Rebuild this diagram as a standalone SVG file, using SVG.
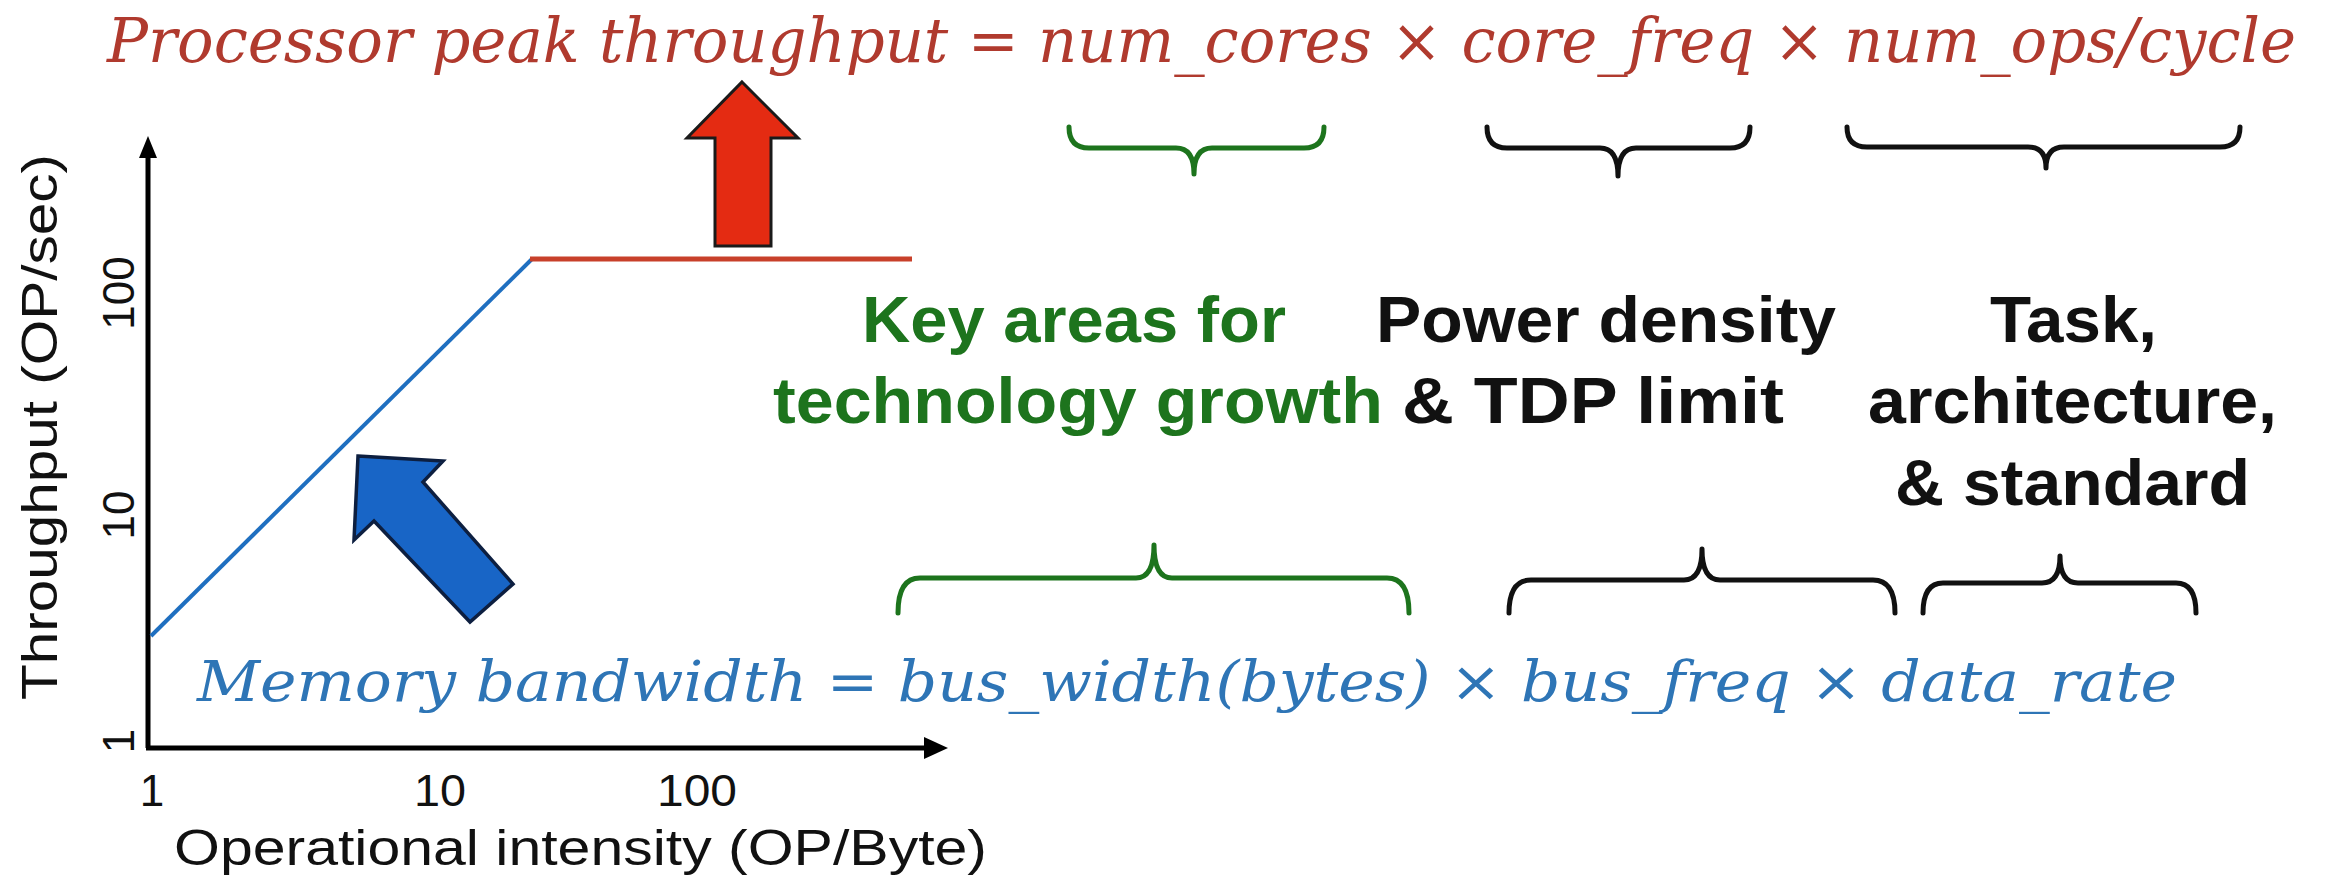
<svg xmlns="http://www.w3.org/2000/svg" width="2328" height="886" viewBox="0 0 2328 886">
<style>
.sans{font-family:"Liberation Sans",Arial,sans-serif;}
.bold{font-weight:bold;font-size:65px;}
.math{font-family:"DejaVu Serif","Liberation Serif",serif;font-style:italic;}
.green{fill:#1D741D;}
.black{fill:#111111;}
.brace{fill:none;stroke-width:5;stroke-linecap:round;stroke-linejoin:round;}
.axis{stroke:#000;stroke-width:5;fill:none;}
.tick{font-size:44px;fill:#111;}
</style>
<rect width="2328" height="886" fill="#ffffff"/>

<g id="title">
<text class="math" x="107" y="62" font-size="61" fill="#B03A2E" textLength="2189" lengthAdjust="spacingAndGlyphs">Processor peak throughput = num_cores × core_freq × num_ops/cycle</text>
</g>

<g id="chart">
<path class="axis" d="M148,748 V150"/>
<polygon points="148,136 139,158 157,158" fill="#000"/>
<path class="axis" d="M146,748 H928"/>
<polygon points="948,748 924,737 924,759" fill="#000"/>
<line x1="151" y1="636" x2="532" y2="259" stroke="#1F6FC0" stroke-width="4"/>
<line x1="530" y1="259" x2="912" y2="259" stroke="#C8402A" stroke-width="5"/>
<text class="sans tick" x="152" y="806" text-anchor="middle">1</text>
<text class="sans tick" x="440" y="806" text-anchor="middle" textLength="52" lengthAdjust="spacingAndGlyphs">10</text>
<text class="sans tick" x="697" y="806" text-anchor="middle" textLength="80" lengthAdjust="spacingAndGlyphs">100</text>
<text class="sans" x="174" y="865" font-size="50" fill="#111" textLength="813" lengthAdjust="spacingAndGlyphs">Operational intensity (OP/Byte)</text>
<text class="sans tick" transform="translate(134,741) rotate(-90)" text-anchor="middle">1</text>
<text class="sans tick" transform="translate(134,515) rotate(-90)" text-anchor="middle">10</text>
<text class="sans tick" transform="translate(134,293) rotate(-90)" text-anchor="middle">100</text>
<text class="sans" transform="translate(57,700) rotate(-90)" font-size="50" fill="#111" textLength="546" lengthAdjust="spacingAndGlyphs">Throughput (OP/sec)</text>
</g>

<g id="red-arrow">
<polygon points="742,82 798,138 771,138 771,246 715,246 715,138 687,138" fill="#E42B12" stroke="#1a1a1a" stroke-width="3" stroke-linejoin="miter"/>
</g>

<g id="blue-arrow">
<polygon points="358,456 443,461 423,482 513,584 470,622 374,521 354,540" fill="#1865C6" stroke="#0d1f40" stroke-width="3.5" stroke-linejoin="miter"/>
</g>

<g id="memory-formula">
<text class="math" x="197" y="701" font-size="56" fill="#2E75B6" textLength="1980" lengthAdjust="spacingAndGlyphs">Memory bandwidth = bus_width(bytes) × bus_freq × data_rate</text>
</g>

<g id="key-areas">
<text class="sans bold green" x="862" y="342" textLength="424" lengthAdjust="spacingAndGlyphs">Key areas for</text>
<text class="sans bold green" x="773" y="423" textLength="610" lengthAdjust="spacingAndGlyphs">technology growth</text>
</g>

<g id="power-density">
<text class="sans bold black" x="1376" y="342" textLength="460" lengthAdjust="spacingAndGlyphs">Power density</text>
<text class="sans bold black" x="1402" y="423" textLength="382" lengthAdjust="spacingAndGlyphs">&amp; TDP limit</text>
</g>

<g id="task-architecture">
<text class="sans bold black" x="1990" y="342" textLength="167" lengthAdjust="spacingAndGlyphs">Task,</text>
<text class="sans bold black" x="1868" y="423" textLength="409" lengthAdjust="spacingAndGlyphs">architecture,</text>
<text class="sans bold black" x="1895" y="505" textLength="355" lengthAdjust="spacingAndGlyphs">&amp; standard</text>
</g>

<g id="connectors">
<path class="brace" stroke="#1D741D" d="M1069,127 Q1069,148 1089,148 H1176 Q1194,148 1194,174 Q1194,148 1212,148 H1304 Q1324,148 1324,127"/>
<path class="brace" stroke="#111" d="M1487,127 Q1487,148 1507,148 H1600 Q1618,148 1618,176 Q1618,148 1636,148 H1730 Q1750,148 1750,127"/>
<path class="brace" stroke="#111" d="M1847,127 Q1847,147 1867,147 H2028 Q2046,147 2046,168 Q2046,147 2064,147 H2220 Q2240,147 2240,127"/>
<path class="brace" stroke="#1D741D" d="M898,613 Q898,578 920,578 H1136 Q1154,578 1154,545 Q1154,578 1172,578 H1387 Q1409,578 1409,613"/>
<path class="brace" stroke="#111" d="M1509,613 Q1509,580 1531,580 H1684 Q1702,580 1702,549 Q1702,580 1720,580 H1873 Q1895,580 1895,613"/>
<path class="brace" stroke="#111" d="M1923,613 Q1923,583 1943,583 H2042 Q2060,583 2060,556 Q2060,583 2078,583 H2176 Q2196,583 2196,613"/>
</g>
</svg>
